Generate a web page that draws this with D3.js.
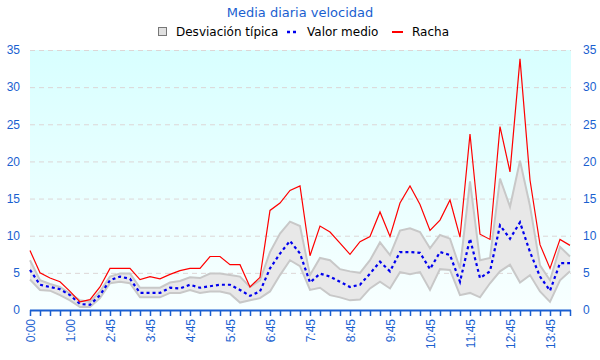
<!DOCTYPE html>
<html><head><meta charset="utf-8">
<script src="https://cdn.jsdelivr.net/npm/d3@7"></script>
<style>body{margin:0;background:#fff}svg{font-family:"DejaVu Sans",sans-serif}</style>
</head><body><svg id="c" width="600" height="360"></svg>
<script>
const times = ["0:00","0:15","0:30","0:45","1:00","1:15","2:15","2:30","2:45","3:00","3:15","3:30","3:45","4:00","4:15","4:30","4:45","5:00","5:15","5:30","5:45","6:00","6:15","6:30","6:45","7:00","7:15","7:30","7:45","8:00","8:15","8:30","8:45","9:00","9:15","9:30","9:45","10:00","10:15","10:30","10:45","11:00","11:15","11:30","11:45","12:00","12:15","12:30","12:45","13:00","13:15","13:30","13:45","14:00","14:15"];
const racha = [8.0,5.0,4.3,3.8,2.5,1.1,1.4,3.1,5.6,5.6,5.6,4.1,4.5,4.2,4.8,5.3,5.6,5.6,7.2,7.2,6.1,6.1,3.1,4.4,13.4,14.4,16.1,16.7,7.3,11.3,10.5,9.0,7.5,9.2,9.9,13.2,9.9,14.4,16.7,14.2,10.7,12.1,14.8,9.8,23.7,10.2,9.5,24.7,18.6,33.8,17.5,8.8,5.6,9.5,8.7];
const media = [5.4,3.4,3.1,2.8,2.0,0.8,0.7,2.0,4.0,4.5,4.2,2.3,2.3,2.3,3.0,2.9,3.4,3.0,3.2,3.4,3.4,2.7,1.9,2.5,5.6,7.6,9.3,7.6,3.7,4.9,4.5,3.8,3.1,3.4,4.9,6.5,5.2,7.8,7.8,7.7,5.5,7.8,7.4,3.8,9.6,4.3,5.2,11.4,9.6,11.8,7.8,4.5,2.6,6.3,6.3];
const desvSup = [6.7,4.0,3.5,3.1,2.2,1.3,1.1,2.5,4.5,4.9,4.9,3.0,3.0,3.0,3.7,3.9,4.4,4.3,4.9,4.9,4.7,4.5,3.1,4.0,7.8,10.3,11.9,11.3,4.7,7.0,6.7,5.5,5.2,5.0,6.7,9.1,7.4,10.7,11.0,10.5,8.3,10.1,9.6,5.6,17.3,6.7,7.0,17.7,13.9,20.1,14.0,6.0,4.0,8.5,7.2];
const desvInf = [4.1,2.7,2.6,2.0,1.3,0.4,0.4,1.6,3.6,3.8,3.6,1.7,1.7,1.7,2.3,2.3,2.7,2.3,2.5,2.5,2.2,1.0,1.3,1.6,2.5,4.7,6.7,5.9,2.7,3.0,2.0,1.7,1.3,1.4,2.9,3.8,2.9,5.1,4.8,5.1,2.7,5.5,5.4,2.0,2.3,1.7,3.6,5.2,6.1,3.7,4.7,2.5,1.1,4.0,5.2];
const yTicks = [0,5,10,15,20,25,30,35];

const svg = d3.select("#c");
const L = 30, R = 570, T = 50, B = 310;
const x = d3.scalePoint().domain(times).range([L, R]);
const y = d3.scaleLinear().domain([0, 35]).range([B, T]);

const defs = svg.append("defs");
const g = defs.append("linearGradient").attr("id","bg").attr("x1",0).attr("y1",0).attr("x2",0).attr("y2",1);
g.append("stop").attr("offset","0%").attr("stop-color","#d8ffff");
g.append("stop").attr("offset","100%").attr("stop-color","#f8ffff");
svg.append("rect").attr("x",L).attr("y",T).attr("width",R-L+1).attr("height",B-T).attr("fill","url(#bg)");

// grid
svg.append("g").selectAll("line").data(yTicks.filter(d=>d>0)).join("line")
  .attr("x1",L).attr("x2",R+1).attr("y1",d=>y(d)+0.5).attr("y2",d=>y(d)+0.5)
  .attr("stroke","#ddd6d6").attr("stroke-dasharray","5,4");

// band
const band = d3.area().x((d,i)=>x(times[i])).y0((d,i)=>y(desvInf[i])).y1((d,i)=>y(desvSup[i]));
svg.append("path").datum(times).attr("d",band).attr("fill","#e8e8e8");
const ln = d3.line().x((d,i)=>x(times[i])).y(d=>y(d));
svg.append("path").datum(desvSup).attr("d",ln).attr("fill","none").attr("stroke","#c8c8c8").attr("stroke-width",2);
svg.append("path").datum(desvInf).attr("d",ln).attr("fill","none").attr("stroke","#c8c8c8").attr("stroke-width",2);

// mean
svg.append("path").datum(media).attr("d",ln).attr("fill","none").attr("stroke","#0000ee").attr("stroke-width",2.2).attr("stroke-dasharray","3,3");
// racha
svg.append("path").datum(racha).attr("d",ln).attr("fill","none").attr("stroke","#ff0000").attr("stroke-width",1.2);

// axes
const axCol = "#1a5fd0";
const xa = svg.append("g").attr("transform",`translate(0,${B})`)
  .call(d3.axisBottom(x).tickSize(6).tickFormat((d,i)=> i%4===0 ? d : ""));
xa.select(".domain").attr("stroke",axCol).attr("stroke-width",2).attr("d",`M${L},0.5H${R+1}`);
xa.selectAll(".tick line").attr("stroke",axCol).attr("stroke-width",1.5);
xa.selectAll(".tick text").attr("fill",axCol).attr("font-size",12)
  .attr("transform","rotate(-90)").attr("text-anchor","end").attr("dx","-9").attr("dy","0.35em").attr("x",0).attr("y",0);

const yl = svg.append("g").attr("transform",`translate(${L},0)`).call(d3.axisLeft(y).tickValues(yTicks).tickSize(0).tickPadding(10));
yl.select(".domain").remove();
yl.selectAll("text").attr("fill",axCol).attr("font-size",12);
const yr = svg.append("g").attr("transform",`translate(${R},0)`).call(d3.axisRight(y).tickValues(yTicks).tickSize(0).tickPadding(13));
yr.select(".domain").remove();
yr.selectAll("text").attr("fill",axCol).attr("font-size",12);

// title
svg.append("text").attr("x",300).attr("y",17).attr("text-anchor","middle").attr("fill","#1a5fd0").attr("font-size",13).text("Media diaria velocidad");

// legend
const lg = svg.append("g").attr("font-size",12).attr("fill","#000");
lg.append("rect").attr("x",158.5).attr("y",27.5).attr("width",8).attr("height",8).attr("fill","#e0e0e0").attr("stroke","#777");
lg.append("text").attr("x",176).attr("y",36).text("Desviación típica");
lg.append("line").attr("x1",287).attr("x2",298).attr("y1",32).attr("y2",32).attr("stroke","#0000ee").attr("stroke-width",2.5).attr("stroke-dasharray","3,3");
lg.append("text").attr("x",307).attr("y",36).text("Valor medio");
lg.append("line").attr("x1",392).attr("x2",403).attr("y1",32).attr("y2",32).attr("stroke","#ff0000").attr("stroke-width",2);
lg.append("text").attr("x",412).attr("y",36).text("Racha");
</script></body></html>
